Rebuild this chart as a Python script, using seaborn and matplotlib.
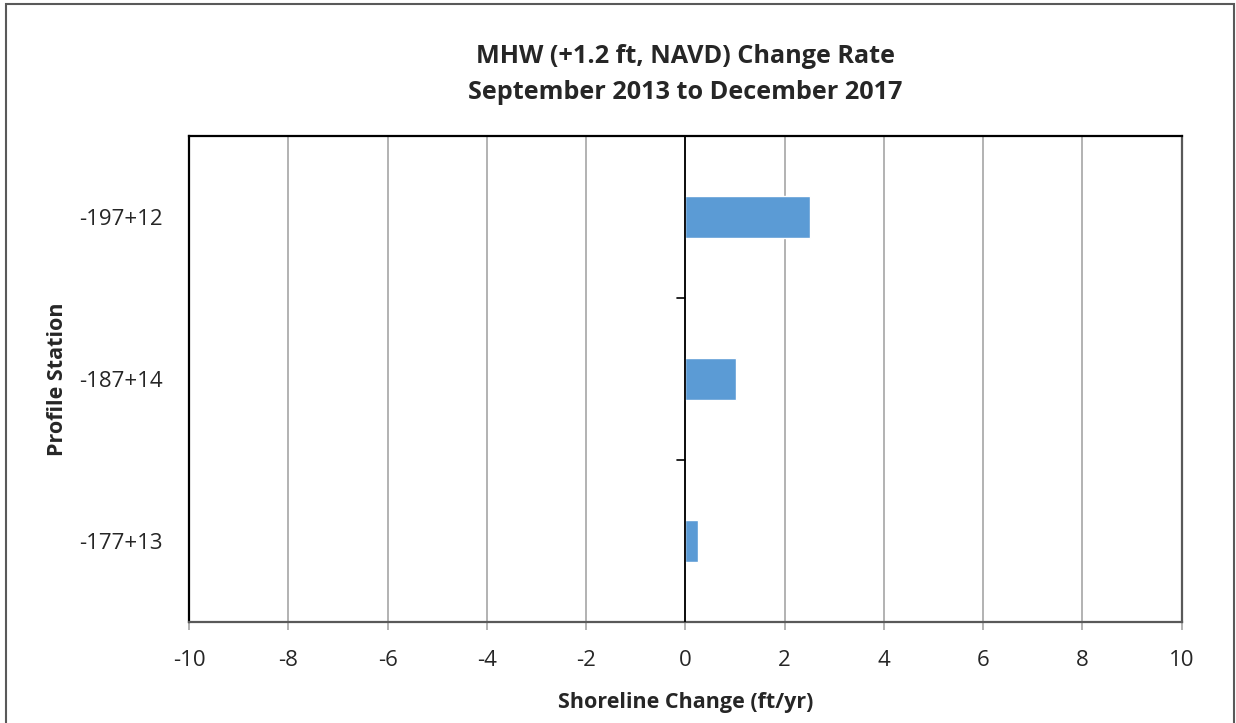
import numpy as np
import pandas as pd
import seaborn as sns
import matplotlib.pyplot as plt
from matplotlib.patches import Rectangle

# profile stations, top to bottom
stations = ["-197+12", "-187+14", "-177+13"]
change_rate = [2.52, 1.03, 0.26]

df = pd.DataFrame({"station": stations, "rate": change_rate})

sns.set_style("white")
plt.rcParams['font.family'] = ['Open Sans', 'DejaVu Sans']
plt.rcParams['axes.unicode_minus'] = False

fig = plt.figure(figsize=(12.36, 7.23), dpi=100)
ax = fig.add_axes([0.153, 0.1397, 0.803, 0.672])

sns.barplot(data=df, x="rate", y="station", orient="h", color="#5B9BD5",
            width=0.26, saturation=1, ax=ax)

ax.set_xlim(-10, 10)
ax.set_ylim(2.5, -0.5)
ax.set_xticks(np.arange(-10, 11, 2))
ax.xaxis.grid(True, color="#a6a6a6", linewidth=1.2)
ax.set_axisbelow(True)

# zero axis with category boundary ticks
ax.axvline(0, color="black", linewidth=1.3, zorder=3)
for yb in [0.5, 1.5]:
    ax.plot([-0.16, 0], [yb, yb], color="black", linewidth=1.2, zorder=3)

for s in ["left", "top"]:
    ax.spines[s].set_color("black")
    ax.spines[s].set_linewidth(1.6)
for s in ["right", "bottom"]:
    ax.spines[s].set_color("#595959")
    ax.spines[s].set_linewidth(1.6)

ax.tick_params(axis="x", direction="out", length=6, color="#a6a6a6", width=1.2,
               labelsize=16, pad=14, bottom=True)
ax.tick_params(axis="y", length=0, labelsize=16, pad=19)

ax.set_xlabel("Shoreline Change (ft/yr)", fontsize=15.5, fontweight="bold", labelpad=15)
ax.set_ylabel("Profile Station", fontsize=15.5, fontweight="bold", labelpad=8)
ax.set_title("MHW (+1.2 ft, NAVD) Change Rate\nSeptember 2013 to December 2017",
             fontsize=18.2, fontweight="bold", pad=27, linespacing=1.55)

# outer chart border
fig.patches.append(Rectangle((6 / 1236, -0.01), 1228 / 1236, 1 - 4 / 723 + 0.01,
                             transform=fig.transFigure, fill=False,
                             edgecolor="#595959", linewidth=1.5))

fig.savefig("out.png", dpi=100)
